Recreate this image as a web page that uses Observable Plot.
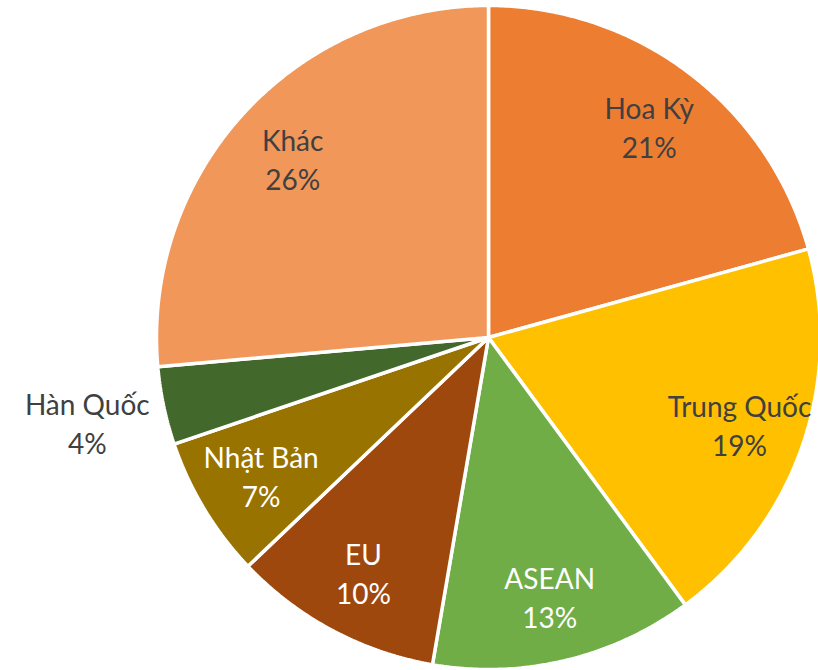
<!DOCTYPE html>
<html>
<head>
<meta charset="utf-8">
<script src="https://cdn.jsdelivr.net/npm/d3@7"></script>
<script src="https://cdn.jsdelivr.net/npm/@observablehq/plot@0.6"></script>
<style>
  html, body { margin: 0; padding: 0; background: #ffffff; overflow: hidden; }
  #chart { width: 818px; height: 670px; }
</style>
</head>
<body>
<div id="chart"></div>
<script>
// ---- data ----
const categories = ["Hoa Kỳ", "Trung Quốc", "ASEAN", "EU", "Nhật Bản", "Hàn Quốc", "Khác"];
const shares = [20.7, 19.2, 12.8, 10.2, 6.9, 3.8, 26.4];
const percentLabels = ["21%", "19%", "13%", "10%", "7%", "4%", "26%"];

// ---- styles ----
const sliceColors = ["#ED7D31", "#FFC000", "#70AD47", "#9E480E", "#997300", "#43682B", "#F1975A"];
const labelColors = ["#404040", "#404040", "#ffffff", "#ffffff", "#ffffff", "#404040", "#404040"];

const W = 818, H = 670;
const R = 332, CX = 488, CY = 337;

const arcs = d3.pie().sort(null).value(d => d)(shares);

// polygon vertices for each slice (unit circle coordinates, y up)
const slicePoints = [];
arcs.forEach((a, i) => {
  const n = Math.max(2, Math.ceil((a.endAngle - a.startAngle) / (Math.PI / 360)));
  slicePoints.push({name: categories[i], x: 0, y: 0, color: sliceColors[i]});
  for (let k = 0; k <= n; k++) {
    const t = a.startAngle + (a.endAngle - a.startAngle) * k / n;
    slicePoints.push({name: categories[i], x: Math.sin(t), y: Math.cos(t), color: sliceColors[i]});
  }
  slicePoints.push({name: categories[i], x: 0, y: 0, color: sliceColors[i]});
});

const labels = arcs.map((a, i) => {
  const mid = (a.startAngle + a.endAngle) / 2;
  const r = shares[i] < 5 ? 1.235 : 0.8;
  return {
    text: categories[i] + "\n" + percentLabels[i],
    x: Math.sin(mid) * r,
    y: Math.cos(mid) * r,
    color: labelColors[i]
  };
});

const chart = Plot.plot({
  width: W,
  height: H,
  margin: 0,
  x: {domain: [-CX / R, (W - CX) / R], axis: null},
  y: {domain: [-(H - CY) / R, CY / R], axis: null},
  style: {fontFamily: "Lato, 'Open Sans', sans-serif", background: "#ffffff"},
  marks: [
    Plot.line(slicePoints, {
      x: "x", y: "y", z: "name",
      fill: "color", stroke: "#ffffff", strokeWidth: 3.5,
      strokeLinejoin: "miter", curve: "linear"
    }),
    Plot.text(labels, {
      x: "x", y: "y", text: "text", fill: "color",
      fontSize: 28, lineHeight: 1.4, textAnchor: "middle"
    })
  ]
});

document.getElementById("chart").append(chart);
</script>
</body>
</html>
